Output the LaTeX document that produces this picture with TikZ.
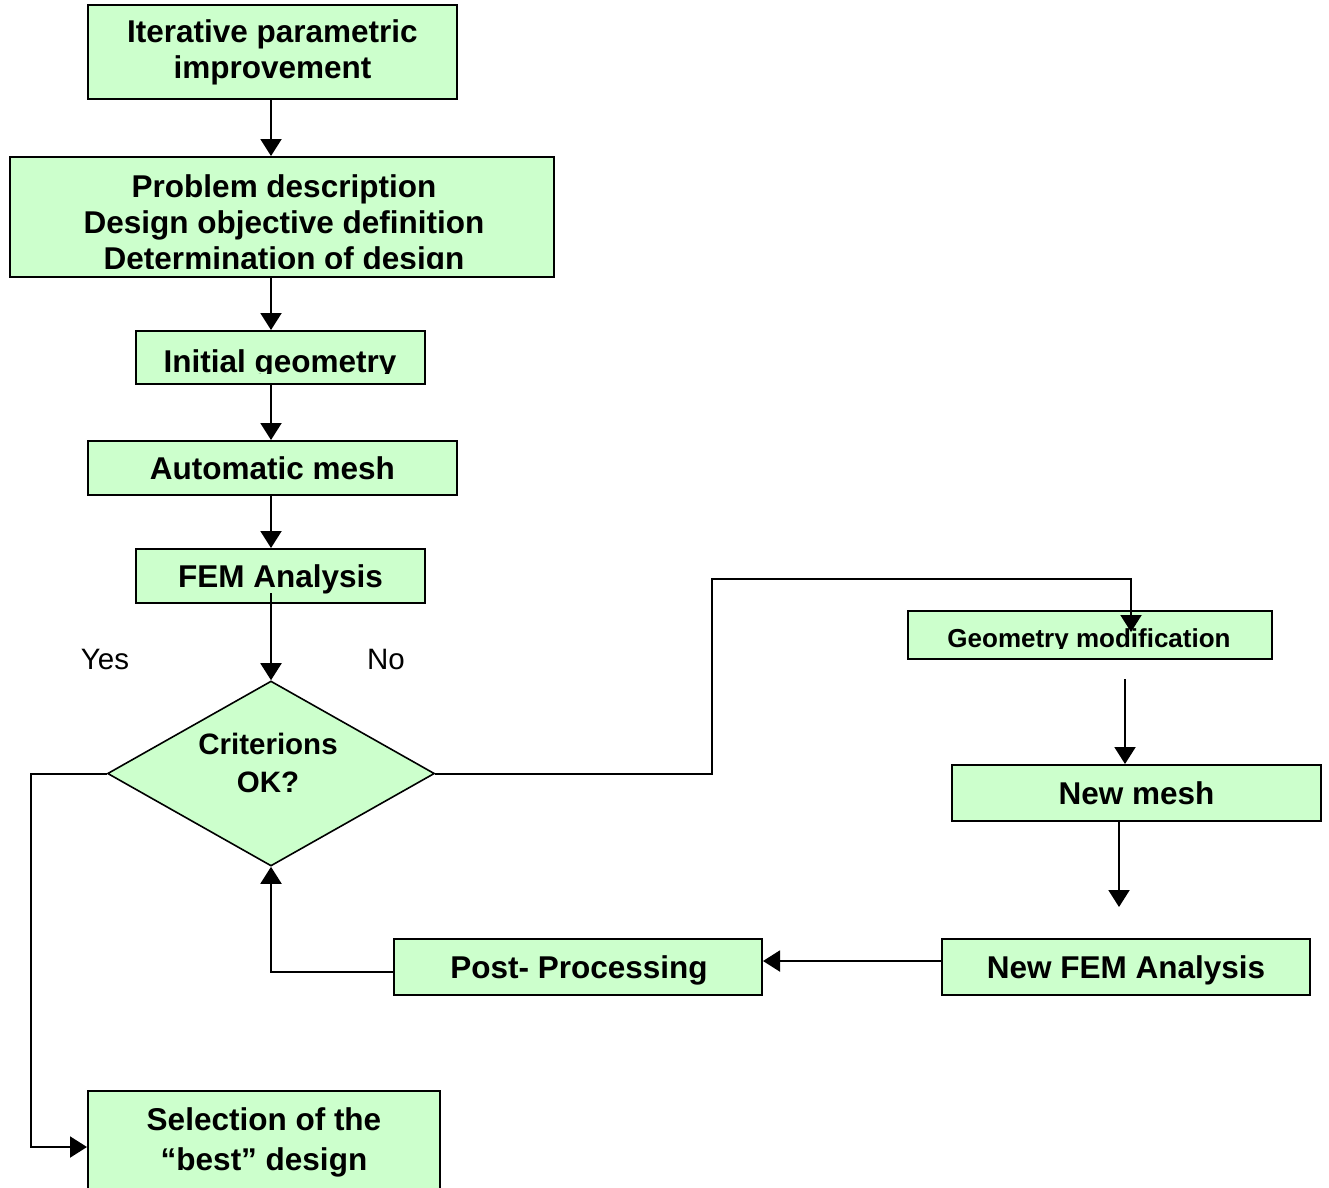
\documentclass[tikz,border=0pt]{standalone}
\usepackage{fontspec}
\setmainfont{Liberation Sans}
\usetikzlibrary{shapes.geometric, arrows.meta}
\definecolor{boxgreen}{RGB}{204,255,204}
\tikzset{>=latex}
\tikzset{every text node part/.style={align=center}}
\newcommand{\bigbold}{\fontsize{31.5}{36}\selectfont\bfseries}
\newcommand{\midbold}{\fontsize{26}{30}\selectfont\bfseries}
\newcommand{\critfont}{\fontsize{29.5}{38}\selectfont\bfseries}
\tikzset{
	flowbox/.style={draw=black, line width=2pt, fill=boxgreen, rectangle, inner sep=0pt, font=\bigbold},
	oneline/.style={text height=23pt, text depth=0pt},
	boxtext/.style={inner sep=0pt, font=\bigbold},
	critbox/.style={draw=black, line width=1.6pt, fill=boxgreen, diamond, aspect=1.77, inner sep=0pt},
	answer/.style={inner sep=0pt, font=\fontsize{29.5}{34}\selectfont},
	flowarrow/.style={line width=2pt, -{Triangle[length=17pt, width=21pt]}}
}
\newcommand{\cliptext}[6]{%
	\begin{scope}
		\clip (#2.north west) rectangle (#2.east |- 0,#3);
		\node[boxtext, #4] (#1) at (#5) {#6};
	\end{scope}
}

\begin{document}
\begin{tikzpicture}[x=1pt, y=-1pt]
	\useasboundingbox (0,0) rectangle (1329,1187);
	
	% Left column
	\node[flowbox, minimum width=369pt, minimum height=94pt] (iter) at (272.5,52) {Iterative parametric\\improvement};
	\node[flowbox, minimum width=544pt, minimum height=120pt] (prob) at (282,217) {};
	\cliptext{probtxt}{prob}{268}{anchor=north}{284,174}{Problem description\\Design objective definition\\Determination of design}
	\node[flowbox, minimum width=289pt, minimum height=53pt] (init) at (280.5,357.5) {};
	\cliptext{inittxt}{init}{373}{anchor=base}{280,372}{Initial geometry}
	\node[flowbox, oneline, minimum width=369pt, minimum height=54pt] (mesh) at (272.5,468) {Automatic mesh};
	\node[flowbox, oneline, minimum width=289pt, minimum height=54pt] (fem) at (280.5,576) {FEM Analysis};
	
	% Decision
	\node[critbox, minimum width=327pt, minimum height=185pt] (crit) at (271,773.5) {};
	\node[boxtext, font=\critfont, anchor=north] (crittxt) at (268,733) {Criterions\\OK?};
	\node[answer, anchor=base] (yes) at (105,669) {Yes};
	\node[answer, anchor=base] (no) at (386,669) {No};
	
	% Right column
	\node[flowbox, minimum width=364pt, minimum height=48pt] (geo) at (1090,635) {};
	\cliptext{geotxt}{geo}{648}{anchor=base, font=\midbold}{1089,647}{Geometry modification}
	\node[flowbox, oneline, minimum width=369pt, minimum height=56pt] (newmesh) at (1136.5,793) {New mesh};
	\node[flowbox, oneline, minimum width=368pt, minimum height=56pt] (newfem) at (1126,967) {New FEM Analysis};
	\node[flowbox, minimum width=368pt, minimum height=56pt] (post) at (578,967) {};
	\cliptext{posttxt}{post}{985}{anchor=base}{579,978}{Post- Processing}
	\node[flowbox, font=\fontsize{31.5}{40}\selectfont\bfseries, minimum width=352pt, minimum height=102pt] (sel) at (264,1142) {Selection of the\\“best” design};
	
	% Bends and free ends
	\coordinate (femout) at (271,593);
	\coordinate (nobend) at (712,579);
	\coordinate (geotip) at (1131,632);
	\coordinate (geoout) at (1125,679);
	\coordinate (meshout) at (1119,907);
	\coordinate (yesbend) at (31,1147);
	
	% Connectors
	\draw[flowarrow] (iter.south -| crit.north) -- (prob.north -| crit.north);
	\draw[flowarrow] (prob.south -| crit.north) -- (init.north -| crit.north);
	\draw[flowarrow] (init.south -| crit.north) -- (mesh.north -| crit.north);
	\draw[flowarrow] (mesh.south -| crit.north) -- (fem.north -| crit.north);
	\draw[flowarrow] (femout) -- (crit.north);
	\draw[flowarrow] (crit.east) -| (nobend) -| (geotip);
	\draw[flowarrow] (geoout) -- (geoout |- newmesh.north);
	\draw[flowarrow] (newmesh.south -| meshout) -- (meshout);
	\draw[flowarrow] ([yshift=6pt]newfem.west) -- ([yshift=6pt]post.east);
	\draw[flowarrow] ([yshift=-5pt]post.west) -| (crit.south);
	\draw[flowarrow] (crit.west) -| (yesbend) -- (yesbend -| sel.west);
\end{tikzpicture}
\end{document}
